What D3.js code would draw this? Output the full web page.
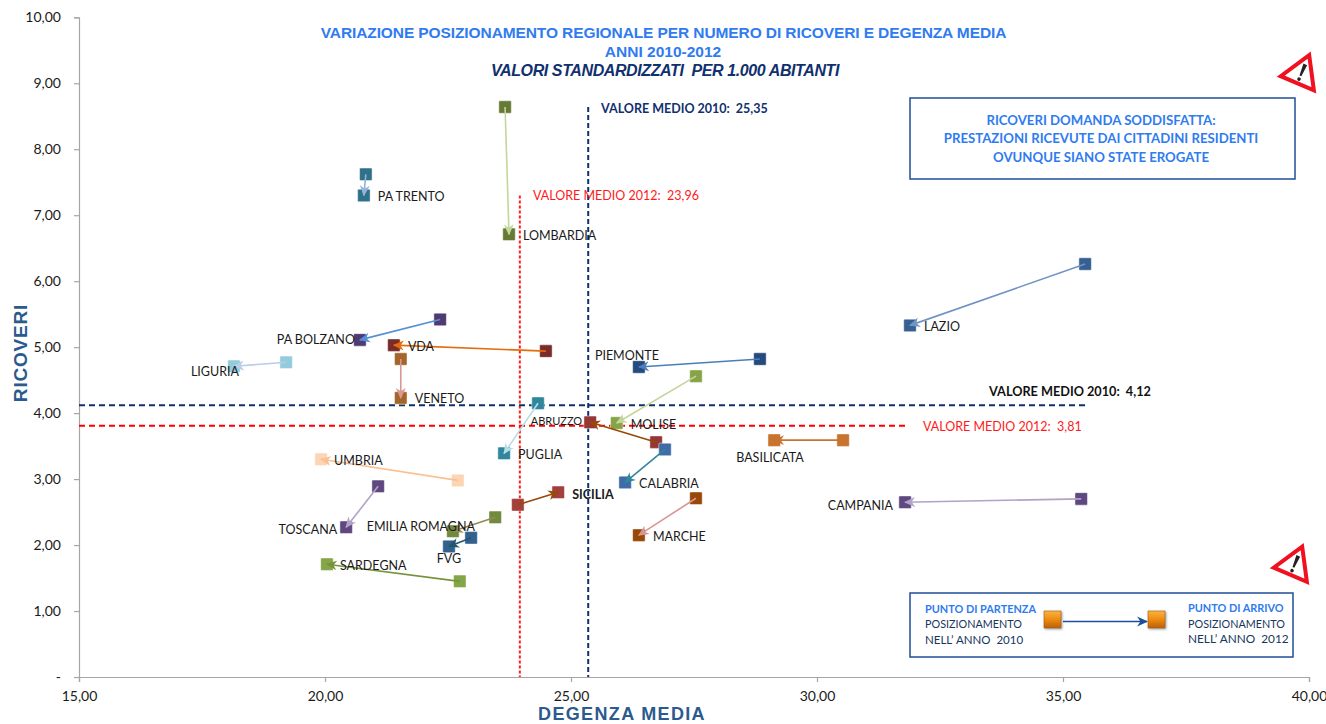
<!DOCTYPE html>
<html><head><meta charset="utf-8">
<script src="https://cdnjs.cloudflare.com/ajax/libs/d3/7.8.5/d3.min.js"></script>
<style>html,body{margin:0;padding:0;background:#fff}svg{display:block}</style>
</head><body><div id="chart"></div>
<script>
const regions = ["LOMBARDIA","PA TRENTO","PA BOLZANO","VDA","VENETO","LIGURIA","LAZIO","PIEMONTE","MOLISE","PUGLIA","ABRUZZO","BASILICATA","CALABRIA","UMBRIA","SICILIA","MARCHE","CAMPANIA","TOSCANA","EMILIA ROMAGNA","FVG","SARDEGNA"];
const degenza2010 = [23.66,20.83,22.34,24.49,21.54,19.21,35.45,28.84,27.54,24.33,26.73,30.53,26.91,22.70,23.92,27.54,35.37,21.08,23.46,22.97,22.74];
const ricoveri2010 = [8.64,7.62,5.42,4.94,4.82,4.77,6.26,4.82,4.56,4.15,3.56,3.59,3.45,2.98,2.61,2.71,2.70,2.89,2.42,2.11,1.45];
const degenza2012 = [23.74,20.79,20.71,21.40,21.54,18.15,31.89,26.38,25.93,23.64,25.39,29.13,26.10,19.92,24.74,26.38,31.79,20.43,22.60,22.52,20.04];
const ricoveri2012 = [6.71,7.30,5.11,5.03,4.23,4.71,5.33,4.70,3.85,3.39,3.86,3.59,2.95,3.30,2.80,2.15,2.65,2.27,2.21,1.98,1.71];
const xTicks = [15,20,25,30,35,40];
const yTicks = [0,1,2,3,4,5,6,7,8,9,10];
const mean2010 = {degenza:25.35, ricoveri:4.12};
const mean2012 = {degenza:23.96, ricoveri:3.81};

const markerColors = ["#667a35","#2f7189","#4f3b72","#7a2c2b","#a5652a","#93cddd","#376092","#254a7d","#86a447","#31859c","#953735","#c9742e","#3f6ca6","#fcd5b5","#a33f3d","#984807","#5f4880","#5f4880","#728a3e","#33608f","#84a548"];
const arrowColors = ["#c3d69b","#95b3d7","#558ed5","#e46c0a","#d99694","#b9cde5","#7094c4","#4a7ebb","#c3d69b","#b7dee8","#984807","#c9742e","#31859c","#fac090","#984807","#d99694","#b3a2c7","#b3a2c7","#948a54","#215968","#77933c"];
// label anchor offsets from the 2012 marker (layout only)
const labelLayout = {
 "LOMBARDIA":[14,1,"start",12.5],"PA TRENTO":[14,1,"start",12.5],"PA BOLZANO":[-5,0,"end",12.5],"VDA":[14,1,"start",12.5],
 "VENETO":[14,1,"start",12.5],"LIGURIA":[5,5,"end",12.5],"LAZIO":[14,1,"start",12.5],"PIEMONTE":[-44,-11,"start",12.5],
 "MOLISE":[14,1,"start",12.5],"PUGLIA":[14,1,"start",12.5],"ABRUZZO":[-8,-2,"end",11],"BASILICATA":[-38,17,"start",12.5],
 "CALABRIA":[14,1,"start",12.5],"UMBRIA":[13,1,"start",12.5],"SICILIA":[14,2,"start",12.5],"MARCHE":[14,1,"start",12.5],
 "CAMPANIA":[-12,3,"end",12.5],"TOSCANA":[-9,2,"end",12.5],"EMILIA ROMAGNA":[22,-5,"end",12.5],"FVG":[0,12,"middle",12.5],"SARDEGNA":[13,1,"start",12.5]
};

const W=1326,H=724, ui="Lato, 'Open Sans', sans-serif", ar="'Liberation Sans', Arial, sans-serif";
const x=d3.scaleLinear().domain([15,40]).range([79,1309]);
const y=d3.scaleLinear().domain([0,10]).range([677,17.3]);
const fmt=v=>v===0?"-":v.toFixed(2).replace(".",",");
const svg=d3.select("#chart").append("svg").attr("width",W).attr("height",H).attr("viewBox",`0 0 ${W} ${H}`);
const defs=svg.append("defs");
function marker(id,col){defs.append("marker").attr("id",id).attr("viewBox","0 0 10 10").attr("refX",9).attr("refY",5).attr("markerUnits","userSpaceOnUse").attr("markerWidth",11).attr("markerHeight",11).attr("orient","auto").append("path").attr("d","M0,0.5L10,5L0,9.5L3,5Z").attr("fill",col);}
arrowColors.forEach((c,i)=>marker("a"+i,c));
marker("legendArrow","#1f4e99");
const g=defs.append("linearGradient").attr("id","lg").attr("x1",0).attr("y1",0).attr("x2",0).attr("y2",1);
g.append("stop").attr("offset",0).attr("stop-color","#f9b640");g.append("stop").attr("offset",.5).attr("stop-color","#ee8a12");g.append("stop").attr("offset",1).attr("stop-color","#b9610a");
const blur=defs.append("filter").attr("id","sh").attr("x","-30%").attr("y","-30%").attr("width","170%").attr("height","170%");
blur.append("feDropShadow").attr("dx",1).attr("dy",1).attr("stdDeviation",1).attr("flood-color","#555").attr("flood-opacity",.6);

// axes
const xAxis=svg.append("g").attr("transform",`translate(0,${y(0)})`).call(d3.axisBottom(x).tickValues(xTicks).tickFormat(fmt).tickSize(5).tickPadding(9));
const yAxis=svg.append("g").attr("transform",`translate(${x(15)},0)`).call(d3.axisLeft(y).tickValues(yTicks).tickFormat(fmt).tickSize(5).tickPadding(13));
[xAxis,yAxis].forEach(a=>{a.selectAll("path,line").attr("stroke","#a6a6a6").attr("stroke-width",1.2);a.selectAll("text").attr("font-family",ui).attr("font-size",14).attr("fill","#1a1a1a");});

// mean lines
const dash="6,4";
svg.append("line").attr("x1",x(mean2010.degenza)).attr("x2",x(mean2010.degenza)).attr("y1",y(8.64)).attr("y2",y(0)).attr("stroke","#10306e").attr("stroke-width",2).attr("stroke-dasharray","5,3");
svg.append("line").attr("x1",x(mean2012.degenza)).attr("x2",x(mean2012.degenza)).attr("y1",y(7.3)).attr("y2",y(0)).attr("stroke","#ff2020").attr("stroke-width",2).attr("stroke-dasharray","3,2");
svg.append("line").attr("x1",x(15)).attr("x2",x(35.47)).attr("y1",y(mean2010.ricoveri)).attr("y2",y(mean2010.ricoveri)).attr("stroke","#10306e").attr("stroke-width",2).attr("stroke-dasharray",dash);
svg.append("line").attr("x1",x(15)).attr("x2",x(31.85)).attr("y1",y(mean2012.ricoveri)).attr("y2",y(mean2012.ricoveri)).attr("stroke","#ff0000").attr("stroke-width",2).attr("stroke-dasharray",dash);

const txt=(s,px,py,o={})=>svg.append("text").text(s).attr("x",px).attr("y",py).attr("font-family",o.f||ui).attr("font-size",o.s||13).attr("font-weight",o.w||"normal").attr("font-style",o.i?"italic":"normal").attr("fill",o.c||"#1a1a1a").attr("text-anchor",o.a||"start").attr("letter-spacing",o.ls||0).style("white-space","pre");
txt("VALORE MEDIO 2010:  "+fmt(mean2010.degenza),601,113,{s:12.5,w:"bold",c:"#10306e"});
txt("VALORE MEDIO 2012:  "+fmt(mean2012.degenza),533,200,{s:12.5,c:"#ff1a1a"});
txt("VALORE MEDIO 2010:  "+fmt(mean2010.ricoveri),989,396,{s:12.7,w:"bold",c:"#111"});
txt("VALORE MEDIO 2012:  "+fmt(mean2012.ricoveri),923,431,{s:12.5,c:"#ff1a1a"});

// markers 2010, 2012, arrows
const rows=regions.map((r,i)=>({r,i,x0:degenza2010[i],y0:ricoveri2010[i],x1:degenza2012[i],y1:ricoveri2012[i]}));
const S=12.5;
const sq=(kx,ky)=>svg.append("g").selectAll("rect").data(rows).join("rect").attr("x",d=>x(d[kx])-S/2).attr("y",d=>y(d[ky])-S/2).attr("width",S).attr("height",S).attr("rx",1).attr("fill",d=>markerColors[d.i]).attr("stroke","#fff").attr("stroke-opacity",.45).attr("stroke-width",1);
sq("x0","y0");
sq("x1","y1");
svg.append("g").selectAll("line").data(rows).join("line").attr("x1",d=>x(d.x0)).attr("y1",d=>y(d.y0)).attr("x2",d=>x(d.x1)).attr("y2",d=>y(d.y1)).attr("stroke",d=>arrowColors[d.i]).attr("stroke-width",1.6).attr("marker-end",d=>`url(#a${d.i})`);
svg.append("g").selectAll("text").data(rows).join("text").text(d=>d.r)
 .attr("x",d=>x(d.x1)+labelLayout[d.r][0]).attr("y",d=>y(d.y1)+labelLayout[d.r][1]+4.5)
 .attr("text-anchor",d=>labelLayout[d.r][2]).attr("font-size",d=>labelLayout[d.r][3]).attr("font-family",ui)
 .attr("font-weight",d=>d.r==="SICILIA"?"bold":"normal").attr("fill","#1a1a1a");

// titles
txt("VARIAZIONE POSIZIONAMENTO REGIONALE PER NUMERO DI RICOVERI E DEGENZA MEDIA",663.5,38,{f:ar,s:15.5,w:"bold",c:"#2f7bf0",a:"middle",ls:-.1});
txt("ANNI 2010-2012",663,57,{f:ar,s:15.5,w:"bold",c:"#2f7bf0",a:"middle"});
txt("VALORI STANDARDIZZATI  PER 1.000 ABITANTI",665,76,{f:ar,s:16,w:"bold",i:true,c:"#10306e",a:"middle",ls:-.4});
txt("DEGENZA MEDIA",622,720,{f:ar,s:18,w:"bold",c:"#2b5a8e",a:"middle",ls:1.35});
svg.append("text").text("RICOVERI").attr("transform","translate(27,353) rotate(-90)").attr("text-anchor","middle").attr("font-family",ar).attr("font-size",19).attr("font-weight","bold").attr("fill","#2b5a8e").attr("letter-spacing",.8);

// info box
svg.append("rect").attr("x",910).attr("y",98).attr("width",385).attr("height",81).attr("fill","#fff").attr("stroke","#1f4e99").attr("stroke-width",1.5);
[["RICOVERI DOMANDA SODDISFATTA:",125],["PRESTAZIONI RICEVUTE DAI CITTADINI RESIDENTI",143],["OVUNQUE SIANO STATE EROGATE",162]].forEach(l=>txt(l[0],1101,l[1],{s:13.2,w:"bold",c:"#2f7bf0",a:"middle"}));

// legend box
svg.append("rect").attr("x",910).attr("y",593).attr("width",383).attr("height",64).attr("fill","#fff").attr("stroke","#1f4e99").attr("stroke-width",1.5);
txt("PUNTO DI PARTENZA",925,613,{s:10.9,w:"bold",c:"#2f7bf0"});
txt("POSIZIONAMENTO",925,628,{s:10.8,c:"#17365d"});
txt("NELL’ ANNO  2010",925,644,{s:11.5,c:"#17365d"});
txt("PUNTO DI ARRIVO",1188,612,{s:10.9,w:"bold",c:"#2f7bf0"});
txt("POSIZIONAMENTO",1188,628,{s:10.8,c:"#17365d"});
txt("NELL’ ANNO  2012",1188,643,{s:11.8,c:"#17365d"});
[1044,1148].forEach(px=>svg.append("rect").attr("x",px).attr("y",611).attr("width",17).attr("height",17).attr("fill","url(#lg)").attr("stroke","#a65a10").attr("stroke-width",.6).attr("filter","url(#sh)"));
svg.append("line").attr("x1",1063).attr("x2",1147).attr("y1",621.5).attr("y2",621.5).attr("stroke","#1f4e99").attr("stroke-width",1.5).attr("marker-end","url(#legendArrow)");

// warning icons
function warn(cx,cy,rot){
 const w=svg.append("g").attr("transform",`translate(${cx},${cy}) rotate(${rot})`);
 w.append("path").attr("d","M0,-21L18,9.5L-18,9.5Z").attr("fill","#fff").attr("stroke","#f01020").attr("stroke-width",4).attr("stroke-linejoin","miter");
 w.append("path").attr("d","M-2,-11L2,-11L1,1.5L-1,1.5Z").attr("fill","#222");
 w.append("circle").attr("cx",0).attr("cy",5).attr("r",1.8).attr("fill","#222");
}
warn(1301,74.5,23);
warn(1294,566,23);
</script></body></html>
